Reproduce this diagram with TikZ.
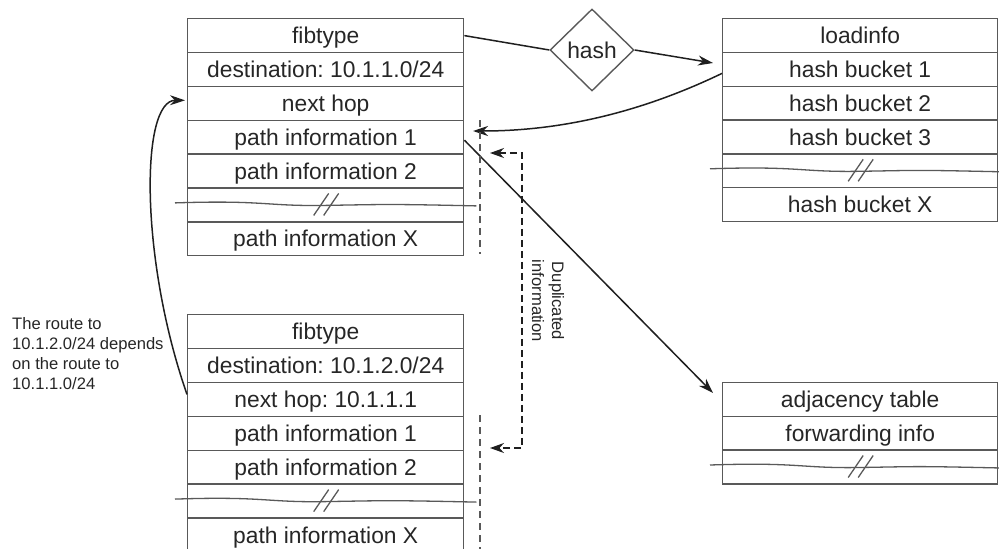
\documentclass[tikz,border=0pt]{standalone}
\usepackage{fontspec}
\setmainfont{Liberation Sans}
\usetikzlibrary{shapes.geometric,arrows.meta,calc}
\frenchspacing
\newcommand\tabfont{\fontsize{22.8}{25}\selectfont}
\newcommand\notefont{\fontsize{16.6}{20}\selectfont}
\definecolor{linegray}{gray}{0.35}
\definecolor{textgray}{gray}{0.15}
\definecolor{arrowcol}{gray}{0.12}
\newcommand\brkrow[3]{%
  \draw[brk] ($(#1.west)+(-#2,-2)$) .. controls +(90,-3) and +(-60,1) .. ($(#1.center)+(0,0.5)$) .. controls +(60,-1) and +(-90,-2) .. ($(#1.east)+(#3,1)$);
  \draw[brk] ($(#1.center)+(-12,10.5)$) -- ($(#1.center)+(3,-11.5)$);
  \draw[brk] ($(#1.center)+(-2,10.5)$) -- ($(#1.center)+(13,-11.5)$);
}
\begin{document}
\begin{tikzpicture}[x=1pt,y=-1pt,
  rowbox/.style={draw=linegray, line width=1.4pt, minimum width=276pt, minimum height=33.8pt, inner sep=0pt, anchor=north west, font=\tabfont, text=textgray, text height=16pt, text depth=0pt},
  brk/.style={draw=linegray, line width=1.3pt},
  conn/.style={draw=arrowcol, line width=1.5pt, -{Stealth[length=15pt,width=10pt]}},
  plain/.style={draw=arrowcol, line width=1.5pt},
  vdash/.style={draw=linegray, line width=1.1pt, dash pattern=on 7pt off 5pt},
  bracket/.style={draw=arrowcol, line width=1.6pt, dash pattern=on 7pt off 4pt, {Stealth[length=14pt,width=10pt]}-{Stealth[length=14pt,width=10pt]}},
  note/.style={font=\notefont, text=textgray, inner sep=0pt, align=left},
  hashbox/.style={diamond, draw=linegray, line width=1.4pt, minimum width=84pt, minimum height=82pt, inner sep=0pt, font=\tabfont, text=textgray}]
\useasboundingbox (0,0) rectangle (999,549);

% top-left fib entry
\foreach \t [count=\i] in {fibtype, destination: 10.1.1.0/24, next hop, path information 1, path information 2, {}, path information X}
  \node[rowbox] (tl\i) at (187,{18+(\i-1)*33.86}) {\t};
\brkrow{tl6}{12}{12}

% bottom-left fib entry
\foreach \t [count=\i] in {fibtype, destination: 10.1.2.0/24, next hop: 10.1.1.1, path information 1, path information 2, {}, path information X}
  \node[rowbox] (bl\i) at (187,{314+(\i-1)*33.9}) {\t};
\brkrow{bl6}{12}{12}

% loadinfo
\foreach \t [count=\i] in {loadinfo, hash bucket 1, hash bucket 2, hash bucket 3, {}, hash bucket X}
  \node[rowbox, minimum width=275pt] (tr\i) at (722,{18+(\i-1)*33.8}) {\t};
\brkrow{tr5}{12}{3}

% adjacency
\foreach \t [count=\i] in {adjacency table, forwarding info, {}}
  \node[rowbox, minimum width=275pt] (ad\i) at (722,{382+(\i-1)*33.7}) {\t};
\brkrow{ad3}{12}{3}

% hash
\node[hashbox] (hash) at (592,50) {hash};

% coordinates for free ends
\coordinate (lttip) at (713,63);
\coordinate (pitip) at (473,131);
\coordinate (adtip) at (713,393);
\coordinate (d1) at (490,153);
\coordinate (d2) at (490,448);
\coordinate (d1c) at (522,153);
\coordinate (d2c) at (522,448);

% connectors
\draw[plain] (tl1.east) -- (hash.west);
\draw[conn] (hash.east) -- (lttip);
\draw[conn] ($(tr2.west)+(0,4)$) .. controls (650,108) and (570,131) .. (pitip);
\draw[conn] ($(tl4.east)+(0,3)$) -- (adtip);
\draw[conn] ($(bl3.west)+(0,-5)$) .. controls (140,260) and (140,100) .. ($(tl3.west)+(-2,-3)$);

% dashed markers
\draw[vdash] (480,120) -- (480,254);
\draw[vdash] (480,415) -- (480,552);
\draw[bracket] (d1) -- (d1c) -- (d2c) -- (d2);
\node[note, rotate=-90, align=center] (dup) at (548,301) {Duplicated\\information};

% annotation
\node[note, anchor=north west] (route) at (12,317) {The route to\\10.1.2.0/24 depends\\on the route to\\10.1.1.0/24};
\end{tikzpicture}
\end{document}
